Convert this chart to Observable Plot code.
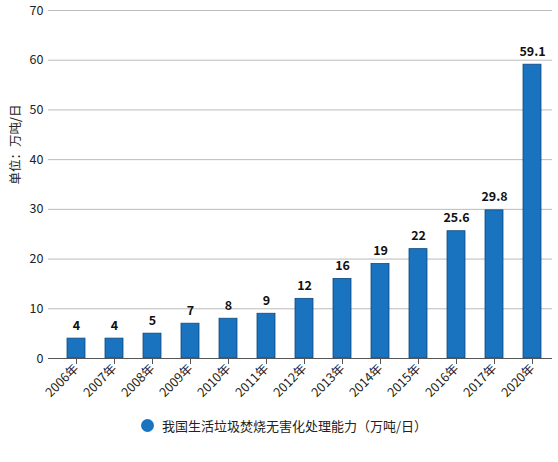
<!DOCTYPE html>
<html>
<head>
<meta charset="utf-8">
<script src="https://cdn.jsdelivr.net/npm/d3@7"></script>
<script src="https://cdn.jsdelivr.net/npm/@observablehq/plot@0.6"></script>
<style>
  body { margin: 0; background: #fff; font-family: "Noto Sans CJK SC", "Noto Sans", sans-serif; }
  #vis { width: 558px; }
  .legend { display: flex; justify-content: center; align-items: center; font-size: 13px; color: #222; margin-top: 6px; margin-left: 10px; }
  .legend .dot { width: 13px; height: 13px; border-radius: 50%; background: #1a73bf; margin-right: 8px; }
</style>
</head>
<body>
<div id="vis"></div>
<script>
const years = ['2006年', '2007年', '2008年', '2009年', '2010年', '2011年', '2012年',
  '2013年', '2014年', '2015年', '2016年', '2017年', '2020年']
const capacity = [4, 4, 5, 7, 8, 9, 12, 16, 19, 22, 25.6, 29.8, 59.1]
const yTicks = [0, 10, 20, 30, 40, 50, 60, 70]
const seriesName = '我国生活垃圾焚烧无害化处理能力（万吨/日）'

const data = years.map((year, i) => ({year, value: capacity[i]}))

let chart = Plot.plot({
  width: 558,
  height: 410,
  marginTop: 10,
  marginLeft: 48,
  marginRight: 6,
  marginBottom: 52,
  insetLeft: 9.5,
  insetRight: 1.5,
  x: {
    domain: years,
    paddingInner: 0.534,
    paddingOuter: 0.25,
    label: null
  },
  y: {
    domain: [0, 70],
    label: null
  },
  style: {
    fontSize: 12,
    fontFamily: '"Noto Sans CJK SC", "Noto Sans", sans-serif',
    color: '#222',
    background: '#fff',
    overflow: 'visible'
  },
  marks: [
    Plot.gridY(yTicks, {stroke: '#bbb', strokeOpacity: 1}),
    Plot.axisY({ticks: yTicks, tickSize: 0, tickPadding: 5, fontSize: 12.5, label: null}),
    Plot.text(['单位：万吨/日'], {
      frameAnchor: 'left', dx: -33, rotate: -90, fontSize: 12.5, fill: '#222'
    }),
    Plot.barY(data, {
      x: 'year', y: 'value', fill: '#1a73bf', stroke: '#0d4a80', strokeWidth: 0.8
    }),
    Plot.ruleY([0], {stroke: '#555'}),
    Plot.axisX({tickRotate: -45, tickSize: 6, tickPadding: 2, fontSize: 12.5, stroke: '#555'}),
    Plot.text(data, {
      x: 'year', y: 'value', text: d => String(d.value),
      dy: -13, fontWeight: 'bold', fontSize: 12.5, fill: '#111'
    })
  ]
})
d3.select('#vis').append(() => chart)
d3.select('#vis').append('div').attr('class', 'legend')
  .html(`<span class="dot"></span><span>${seriesName}</span>`)
</script>
</body>
</html>
